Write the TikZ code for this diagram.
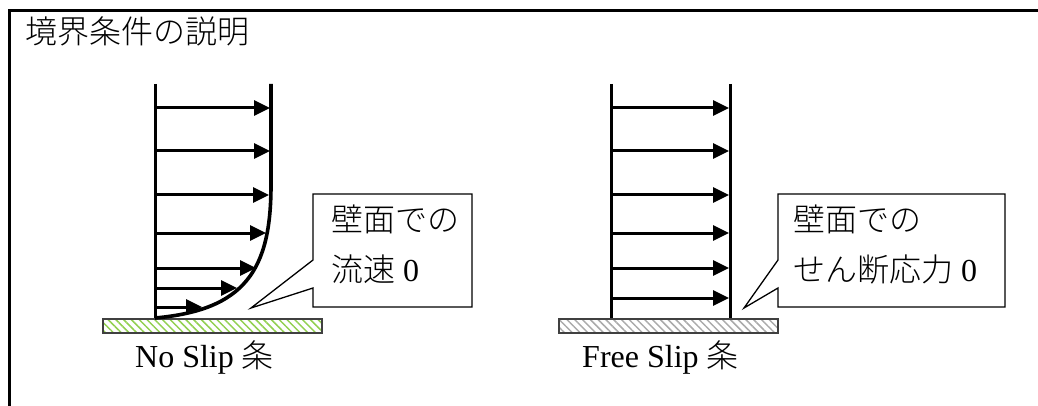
\documentclass[tikz,border=0pt]{standalone}
\usepackage{fontspec}
\setmainfont{Liberation Serif}
\newfontfamily\jp{Noto Sans CJK JP Light}
\usetikzlibrary{arrows.meta,patterns.meta}
\definecolor{hatchgreen}{RGB}{146,208,80}
\definecolor{hatchgray}{RGB}{170,170,170}
\tikzset{
  flow/.style={line width=3pt, -{Triangle[length=16pt,width=15pt]}},
  axisline/.style={line width=3pt},
  profile/.style={line width=3.6pt},
  framebar/.style={line width=3pt},
  callout/.style={draw, line width=1.3pt, fill=white, line join=miter},
  txt/.style={font=\fontsize{32}{32}\selectfont, inner sep=0pt, anchor=base west},
  wallgreen/.style={draw=black!75, line width=1.4pt, pattern={Lines[angle=-45,distance=5.5pt,line width=1.5pt]}, pattern color=hatchgreen},
  wallgray/.style={draw=black!75, line width=1.4pt, pattern={Lines[angle=-45,distance=5.5pt,line width=1.5pt]}, pattern color=hatchgray},
}
\begin{document}
\begin{tikzpicture}[x=1pt,y=-1pt]
\useasboundingbox (0,0) rectangle (1038,406);
% outer frame (top and left edges)
\coordinate (fbl) at (9,406);
\coordinate (ftl) at (9,11);
\coordinate (ftr) at (1038,11);
\draw[framebar] (fbl) -- (ftl) -- (ftr);
\node[txt] (title) at (25,44) {\jp 境界条件の説明};

% ---------- No slip ----------
\draw[wallgreen] (103,319) rectangle (322,333);
\coordinate (La) at (155,84);
\coordinate (Lb) at (155,318);
\coordinate (Ra) at (271,84);
\coordinate (Rb) at (271,185);
\draw[axisline] (La) -- (Lb);
\draw[profile] (Ra) -- (Rb) .. controls (271,270) and (245,310) .. (Lb);
\foreach \y/\t [count=\i] in {108/270, 151/270, 195/269, 233/266, 268/256, 288/237, 307/202}{
  \coordinate (ns\i) at (155,\y);
  \coordinate (ne\i) at (\t,\y);
  \draw[flow] (ns\i) -- (ne\i);
}
\draw[callout] (313,194) -- (472,194) -- (472,307) -- (313,307) -- (313,288) -- (251,308) -- (313,260) -- cycle;
\node[txt] (c1a) at (331,231) {\jp 壁面での};
\node[txt] (c1b) at (331,281) {{\jp 流速} 0};
\node[txt] (lab1) at (135,367) {No Slip {\jp 条}};

% ---------- Free slip ----------
\draw[wallgray] (559,319) rectangle (778,333);
\coordinate (FLa) at (611,84);
\coordinate (FLb) at (611,318);
\coordinate (FRa) at (730,84);
\coordinate (FRb) at (730,318);
\draw[axisline] (FLa) -- (FLb);
\draw[axisline] (FRa) -- (FRb);
\foreach \y [count=\i] in {108,151,195,233,268,298}{
  \coordinate (fs\i) at (611,\y);
  \coordinate (fe\i) at (729,\y);
  \draw[flow] (fs\i) -- (fe\i);
}
\draw[callout] (778,194) -- (1005,194) -- (1005,307) -- (778,307) -- (778,288) -- (744,308) -- (778,260) -- cycle;
\node[txt] (c2a) at (793,231) {\jp 壁面での};
\node[txt] (c2b) at (793,281) {{\jp せん断応力} 0};
\node[txt] (lab2) at (582,367) {Free Slip {\jp 条}};
\end{tikzpicture}
\end{document}
